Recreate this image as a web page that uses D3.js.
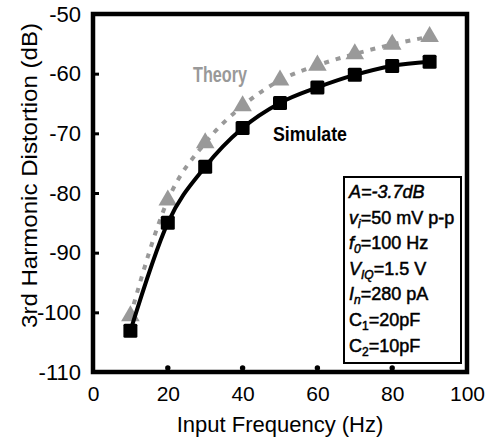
<!DOCTYPE html>
<html>
<head>
<meta charset="utf-8">
<script src="https://cdn.jsdelivr.net/npm/d3@7"></script>
<style>
  body { margin: 0; background: #fff; }
  svg { display: block; font-family: "Liberation Sans", Arial, sans-serif; }
</style>
</head>
<body>
<div id="chart"></div>
<script>
// input frequency (Hz)
var freqs = [10, 20, 30, 40, 50, 60, 70, 80, 90];
// 3rd harmonic distortion (dB)
var simulate = [-103.1, -85.0, -75.6, -69.1, -64.9, -62.3, -60.2, -58.7, -58.0];
var theory = [-100.6, -81.2, -71.6, -65.4, -61.1, -58.6, -56.7, -55.1, -53.8];
var xTicks = [0, 20, 40, 60, 80, 100];
var yTicks = [-50, -60, -70, -80, -90, -100, -110];
var boxLines = [
  [{t: "A=-3.7dB", i: true}],
  [{t: "v", i: true}, {t: "i", i: true, sub: true}, {t: "=50 mV p-p"}],
  [{t: "f", i: true}, {t: "0", i: true, sub: true}, {t: "=100 Hz"}],
  [{t: "V", i: true}, {t: "IQ", i: true, sub: true}, {t: "=1.5 V"}],
  [{t: "I", i: true}, {t: "n", i: true, sub: true}, {t: "=280 pA"}],
  [{t: "C"}, {t: "1", sub: true}, {t: "=20pF"}],
  [{t: "C"}, {t: "2", sub: true}, {t: "=10pF"}]
];

var W = 495, H = 447;
var m = {left: 93, right: 28, top: 14, bottom: 75};

var svg = d3.select("#chart").append("svg")
  .attr("width", W).attr("height", H);

var x = d3.scaleLinear().domain([0, 100]).range([m.left, W - m.right]);
var y = d3.scaleLinear().domain([-110, -50]).range([H - m.bottom, m.top]);

// y ticks (inward) and labels
svg.append("g")
  .attr("transform", "translate(" + m.left + ",0)")
  .call(d3.axisLeft(y).tickValues(yTicks).tickSize(-6).tickPadding(12)
    .tickFormat(function(d) { return String(d); }))
  .call(function(g) {
    g.select(".domain").remove();
    g.selectAll(".tick line").attr("stroke", "#000").attr("stroke-width", 3);
    g.selectAll(".tick text").attr("font-size", 22).attr("fill", "#000");
  });

// x ticks (dots) and labels
svg.append("g")
  .attr("transform", "translate(0," + (H - m.bottom) + ")")
  .call(d3.axisBottom(x).tickValues(xTicks).tickSize(0).tickPadding(14)
    .tickFormat(function(d) { return String(d); }))
  .call(function(g) {
    g.select(".domain").remove();
    g.selectAll(".tick text").attr("font-size", 21).attr("fill", "#000");
  });
svg.append("g").selectAll("circle")
  .data(xTicks.filter(function(d) { return d > 0 && d < 100; }))
  .join("circle")
  .attr("cx", function(d) { return x(d); })
  .attr("cy", H - m.bottom - 4)
  .attr("r", 2.7)
  .attr("fill", "#000");

// frame
svg.append("rect")
  .attr("x", x(0)).attr("y", y(-50))
  .attr("width", x(100) - x(0)).attr("height", y(-110) - y(-50))
  .attr("fill", "none").attr("stroke", "#000").attr("stroke-width", 4.5);

// axis titles
svg.append("text")
  .attr("x", (x(0) + x(100)) / 2).attr("y", 432)
  .attr("text-anchor", "middle").attr("font-size", 22)
  .text("Input Frequency (Hz)");
svg.append("text")
  .attr("transform", "translate(37,176) rotate(-90)")
  .attr("x", -152)
  .attr("font-size", 22)
  .attr("textLength", 305).attr("lengthAdjust", "spacingAndGlyphs")
  .text("3rd Harmonic Distortion (dB)");

var line = d3.line()
  .x(function(d, i) { return x(freqs[i]); })
  .y(function(d) { return y(d); })
  .curve(d3.curveMonotoneX);

// theory
svg.append("path")
  .attr("d", line(theory))
  .attr("fill", "none").attr("stroke", "#999")
  .attr("stroke-width", 4).attr("stroke-dasharray", "5,7");
svg.append("g").selectAll("path")
  .data(theory)
  .join("path")
  .attr("d", d3.symbol(d3.symbolTriangle, 150))
  .attr("transform", function(d, i) { return "translate(" + x(freqs[i]) + "," + y(d) + ")"; })
  .attr("fill", "#999");

// simulate
svg.append("path")
  .attr("d", line(simulate))
  .attr("fill", "none").attr("stroke", "#000")
  .attr("stroke-width", 4);
svg.append("g").selectAll("rect")
  .data(simulate)
  .join("rect")
  .attr("x", function(d, i) { return x(freqs[i]) - 7; })
  .attr("y", function(d) { return y(d) - 7; })
  .attr("width", 14).attr("height", 14)
  .attr("rx", 1.5)
  .attr("fill", "#000");

// series labels
svg.append("text")
  .attr("x", 193).attr("y", 82)
  .attr("font-size", 22).attr("font-weight", "bold")
  .attr("textLength", 54).attr("lengthAdjust", "spacingAndGlyphs")
  .attr("fill", "#999").text("Theory");
svg.append("text")
  .attr("x", 273).attr("y", 141)
  .attr("font-size", 21).attr("font-weight", "bold")
  .attr("textLength", 74).attr("lengthAdjust", "spacingAndGlyphs")
  .attr("fill", "#000").text("Simulate");

// parameter box
svg.append("rect")
  .attr("x", 344).attr("y", 177).attr("width", 117).attr("height", 186)
  .attr("fill", "#fff").attr("stroke", "#000").attr("stroke-width", 2);
var bt = svg.append("g").selectAll("text")
  .data(boxLines)
  .join("text")
  .attr("x", 349)
  .attr("y", function(d, i) { return 198 + i * 25.6; })
  .attr("font-size", 18)
  .attr("stroke", "#000").attr("stroke-width", 0.5);
bt.selectAll("tspan")
  .data(function(d) { return d; })
  .join("tspan")
  .attr("font-style", function(d) { return d.i ? "italic" : null; })
  .attr("font-size", function(d) { return d.sub ? 12 : null; })
  .attr("dy", function(d, i, n) {
    if (d.sub) return 4;
    if (i > 0 && n[i - 1].__data__.sub) return -4;
    return null;
  })
  .text(function(d) { return d.t; });
</script>
</body>
</html>
